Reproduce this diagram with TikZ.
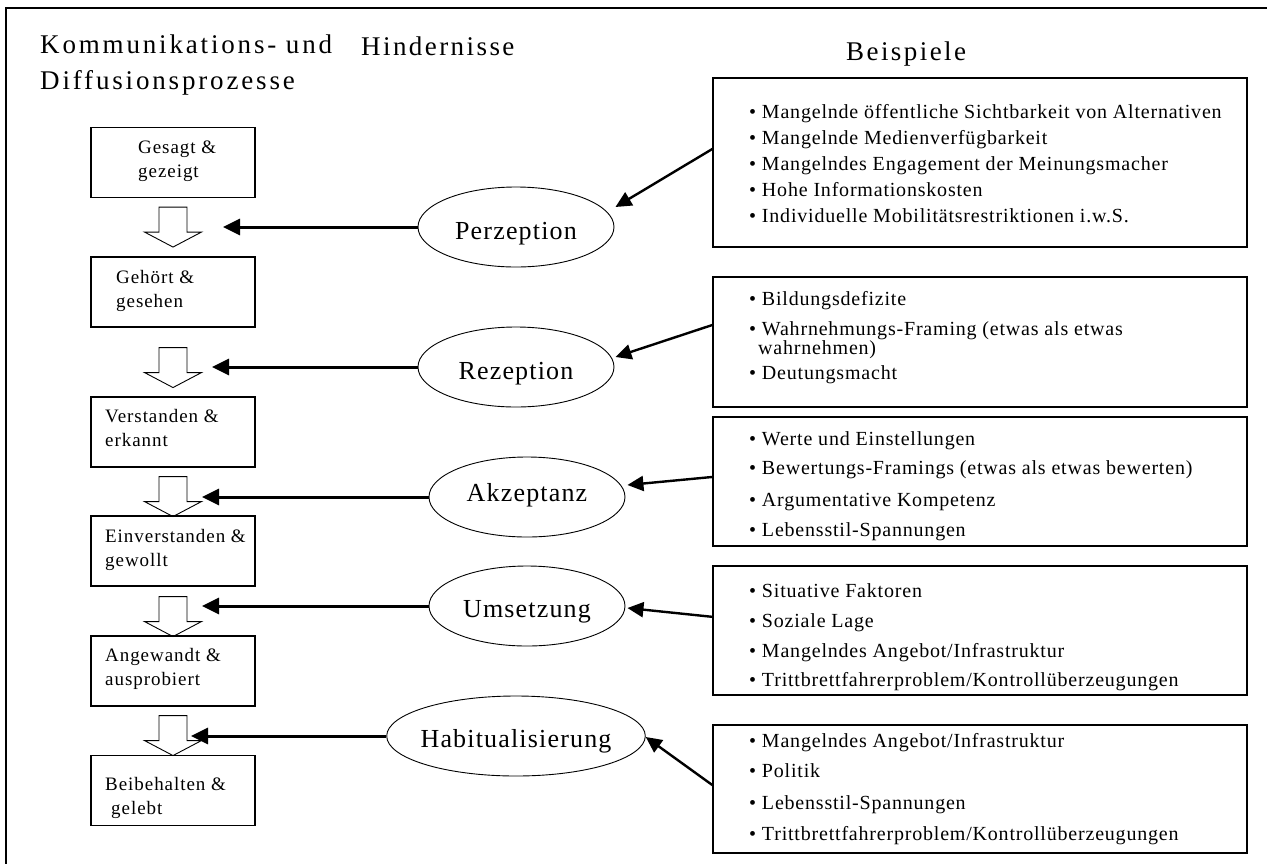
\documentclass[tikz,border=0pt]{standalone}
\usepackage{fontspec}
\setmainfont{Liberation Serif}
\newfontfamily\headfont[LetterSpace=9]{Liberation Serif}
\newfontfamily\titlefont[LetterSpace=10.5]{Liberation Serif}
\newfontfamily\boxfont[LetterSpace=5]{Liberation Serif}
\newfontfamily\ellfont[LetterSpace=4.5]{Liberation Serif}
\newfontfamily\listfont[LetterSpace=4]{Liberation Serif}
\newcommand\headfnt{\headfont\fontsize{27}{36}\selectfont}
\newcommand\titlefnt{\titlefont\fontsize{27}{36}\selectfont}
\newcommand\boxfnt{\boxfont\fontsize{19}{24}\selectfont}
\newcommand\ellfnt{\ellfont\fontsize{26}{30}\selectfont}
\newcommand\listfnt{\listfont\fontsize{20}{24}\selectfont}
\usetikzlibrary{shapes.geometric,arrows.meta,calc}
\tikzset{
  hollowarrow/.pic={\draw[line width=0.9pt, line join=miter] (-14,0) -- (14,0) -- (14,25) -- (28.5,25) -- (0,40) -- (-28.5,25) -- (-14,25) -- cycle;}
}
\begin{document}
\begin{tikzpicture}[x=1pt,y=-1pt,
  frame/.style={line width=1.2pt},
  head/.style={anchor=base west, inner sep=0pt, align=left, font=\headfnt},
  lbox/.style={draw, line width=1.1pt, minimum width=164pt, minimum height=70pt, inner sep=0pt},
  ltext/.style={anchor=base west, inner sep=0pt, align=left, font=\boxfnt},
  ell/.style={ellipse, draw, line width=0.9pt, minimum width=196pt, minimum height=80pt, inner xsep=-4pt, inner ysep=0pt, text height=24pt, text depth=0pt, font=\ellfnt},
  rbox/.style={draw, line width=1.1pt, minimum width=534pt, inner sep=0pt},
  ritem/.style={anchor=base west, inner sep=0pt, font=\listfnt},
  harr/.style={line width=3pt, -{Triangle[length=17pt,width=16pt]}},
  darr/.style={line width=2.4pt, -{Triangle[length=16pt,width=15pt]}}
]
\useasboundingbox (0,0) rectangle (1267,863);
\clip (0,0) rectangle (1267,863);
\draw[frame] (6,8) rectangle (1300,900);

% headers (anchor base = baseline of the last line)
\node[head, font=\titlefnt] (title) at (40,89) {Kommunikations- und\\Diffusionsprozesse};
\node[head] (hind) at (361,55) {Hindernisse};
\node[head] (beisp) at (846,60) {Beispiele};

% left boxes
\node[lbox] (b1) at (173,162.5) {};
\node[lbox] (b2) at (173,292) {};
\node[lbox] (b3) at (173,432) {};
\node[lbox] (b4) at (173,551) {};
\node[lbox] (b5) at (173,671) {};
\node[lbox] (b6) at (173,790.5) {};
\node[ltext] (t1) at (138,177) {Gesagt \&\\gezeigt};
\node[ltext] (t2) at (116,307) {Gehört \&\\gesehen};
\node[ltext] (t3) at (105,446) {Verstanden \&\\erkannt};
\node[ltext] (t4) at (105,566) {Einverstanden \&\\gewollt};
\node[ltext] (t5) at (105,685) {Angewandt \&\\ausprobiert};
\node[ltext] (t6) at (105,814) {Beibehalten \&\\\hspace*{6pt}gelebt};

% hollow arrows
\pic (a1) at ($(b1.south)+(0,9)$) {hollowarrow};
\pic (a2) at ($(b2.south)+(0,20)$) {hollowarrow};
\pic (a3) at ($(b3.south)+(0,9)$) {hollowarrow};
\pic (a4) at ($(b4.south)+(0,10)$) {hollowarrow};
\pic (a5) at ($(b5.south)+(0,9)$) {hollowarrow};

% ellipses
\node[ell] (perz) at (516,227) {Perzeption};
\node[ell] (rez) at (516,367) {Rezeption};
\node[ell, text height=9pt] (akz) at (527,497) {Akzeptanz};
\node[ell, text height=22pt] (ums) at (527,606) {Umsetzung};
\node[ell, text height=22pt] (hab) at (516,736) {Habitualisierung};

% arrow tips at the left column
\coordinate (tp1) at (223,227);
\coordinate (tp2) at (212,367);
\coordinate (tp3) at (202,497);
\coordinate (tp4) at (202,606);
\coordinate (tp5) at (191,736);
\draw[harr] (perz.west) -- (tp1);
\draw[harr] (rez.west) -- (tp2);
\draw[harr] (akz.west) -- (tp3);
\draw[harr] (ums.west) -- (tp4);
\draw[harr] (hab.west) -- (tp5);

% right boxes
\node[rbox, minimum height=169pt] (r1) at (980,162.5) {};
\node[rbox, minimum height=130pt] (r2) at (980,342) {};
\node[rbox, minimum height=129pt] (r3) at (980,481.5) {};
\node[rbox, minimum height=129pt] (r4) at (980,630.5) {};
\node[rbox, minimum height=128pt] (r5) at (980,789) {};

\node[ritem] (i11) at (749,118) {• Mangelnde öffentliche Sichtbarkeit von Alternativen};
\node[ritem] (i12) at (749,144) {• Mangelnde Medienverfügbarkeit};
\node[ritem] (i13) at (749,170) {• Mangelndes Engagement der Meinungsmacher};
\node[ritem] (i14) at (749,196) {• Hohe Informationskosten};
\node[ritem] (i15) at (749,222) {• Individuelle Mobilitätsrestriktionen i.w.S.};

\node[ritem] (i21) at (749,305) {• Bildungsdefizite};
\node[ritem] (i22) at (749,335) {• Wahrnehmungs-Framing (etwas als etwas};
\node[ritem] (i22b) at (758,354) {wahrnehmen)};
\node[ritem] (i23) at (749,379) {• Deutungsmacht};

\node[ritem] (i31) at (749,445) {• Werte und Einstellungen};
\node[ritem] (i32) at (749,474) {• Bewertungs-Framings (etwas als etwas bewerten)};
\node[ritem] (i33) at (749,506) {• Argumentative Kompetenz};
\node[ritem] (i34) at (749,536) {• Lebensstil-Spannungen};

\node[ritem] (i41) at (749,597) {• Situative Faktoren};
\node[ritem] (i42) at (749,627) {• Soziale Lage};
\node[ritem] (i43) at (749,657) {• Mangelndes Angebot/Infrastruktur};
\node[ritem] (i44) at (749,686) {• Trittbrettfahrerproblem/Kontrollüberzeugungen};

\node[ritem] (i51) at (749,747) {• Mangelndes Angebot/Infrastruktur};
\node[ritem] (i52) at (749,777) {• Politik};
\node[ritem] (i53) at (749,809) {• Lebensstil-Spannungen};
\node[ritem] (i54) at (749,840) {• Trittbrettfahrerproblem/Kontrollüberzeugungen};

% diagonal arrows from examples to obstacles
\coordinate (s1) at ($(r1.north west)!0.42!(r1.south west)$);
\coordinate (s2) at ($(r2.north west)!0.37!(r2.south west)$);
\coordinate (s3) at ($(r3.north west)!0.465!(r3.south west)$);
\coordinate (s4) at ($(r4.north west)!0.395!(r4.south west)$);
\coordinate (s5) at ($(r5.north west)!0.47!(r5.south west)$);
\coordinate (e1) at ($(perz.east)+(1,-20)$);
\coordinate (e2) at ($(rez.east)+(1,-10)$);
\coordinate (e3) at ($(akz.east)+(2,-12)$);
\coordinate (e4) at ($(ums.east)+(2,2)$);
\coordinate (e5) at ($(hab.east)+(0,1)$);
\draw[darr] (s1) -- (e1);
\draw[darr] (s2) -- (e2);
\draw[darr] (s3) -- (e3);
\draw[darr] (s4) -- (e4);
\draw[darr] (s5) -- (e5);
\end{tikzpicture}
\end{document}
